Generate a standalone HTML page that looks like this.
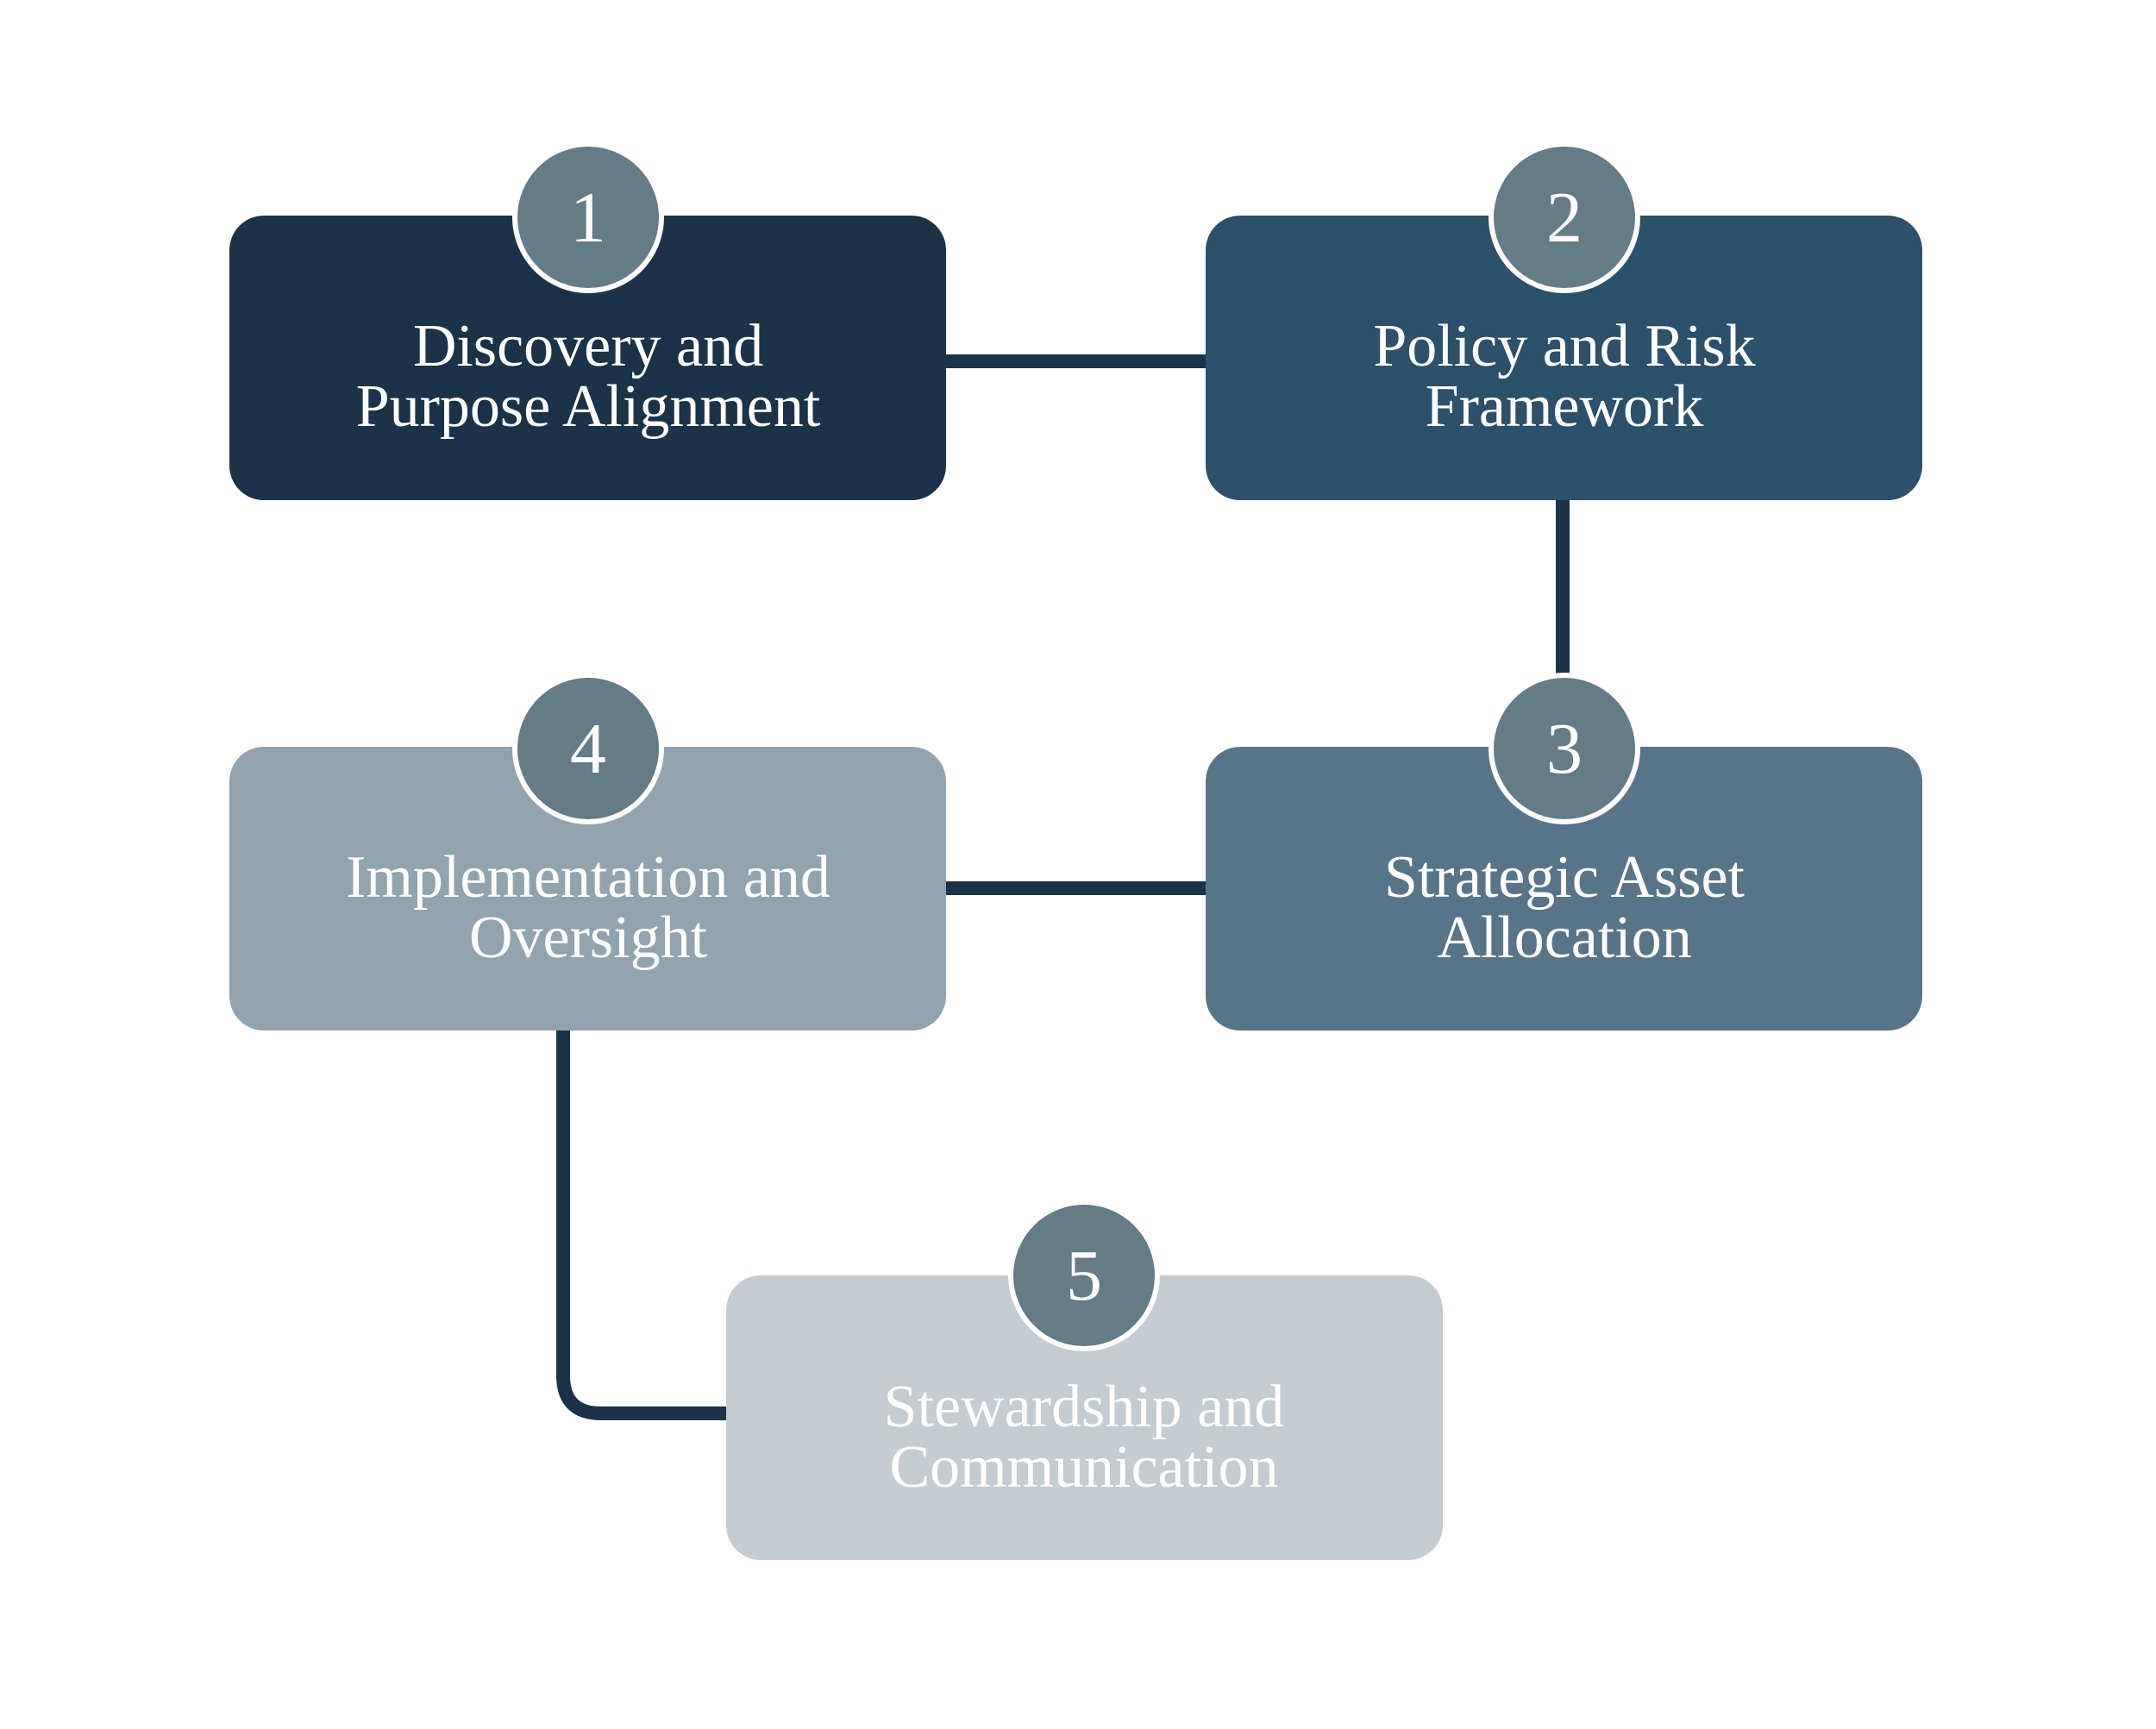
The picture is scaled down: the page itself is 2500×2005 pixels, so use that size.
<!DOCTYPE html>
<html><head><meta charset="utf-8"><style>
html,body{margin:0;padding:0;background:#fff;}
</style></head><body>
<svg width="2500" height="2000" viewBox="0 0 2500 2000" xmlns="http://www.w3.org/2000/svg">
<rect width="2500" height="2000" fill="#fff"/>
<g stroke="#1a3349" stroke-width="16" fill="none">
<line x1="1097" y1="419" x2="1398" y2="419"/>
<line x1="1812" y1="580" x2="1812" y2="790"/>
<line x1="1097" y1="1030" x2="1398" y2="1030"/>
<path d="M653 1195 V1595 Q653 1639 697 1639 H842"/>
</g>
<rect x="266" y="250" width="831" height="330" rx="40" fill="#1a3349"/>
<rect x="1398" y="250" width="831" height="330" rx="40" fill="#2d506b"/>
<rect x="1398" y="866" width="831" height="329" rx="40" fill="#587489"/>
<rect x="266" y="866" width="831" height="329" rx="40" fill="#91a3af"/>
<rect x="842" y="1479" width="831" height="330" rx="40" fill="#c4cbd1"/>
<g font-family="'Liberation Serif',serif" font-size="70" fill="#fff" text-anchor="middle">
<text x="682" y="424">Discovery and</text><text x="682" y="494">Purpose Alignment</text>
<text x="1814" y="424">Policy and Risk</text><text x="1814" y="494">Framework</text>
<text x="1814" y="1040">Strategic Asset</text><text x="1814" y="1110">Allocation</text>
<text x="682" y="1040">Implementation and</text><text x="682" y="1110">Oversight</text>
<text x="1257" y="1654">Stewardship and</text><text x="1257" y="1724">Communication</text>
</g>
<g fill="#647b88" stroke="#fff" stroke-width="6">
<circle cx="682" cy="252" r="85"/><circle cx="1814" cy="252" r="85"/>
<circle cx="1814" cy="868" r="85"/><circle cx="682" cy="868" r="85"/>
<circle cx="1257" cy="1479" r="85"/>
</g>
<g font-family="'Liberation Serif',serif" font-size="84" fill="#fff" text-anchor="middle">
<text x="682" y="280">1</text><text x="1814" y="280">2</text>
<text x="1814" y="896">3</text><text x="682" y="896">4</text>
<text x="1257" y="1507">5</text>
</g>
</svg>
</body></html>
